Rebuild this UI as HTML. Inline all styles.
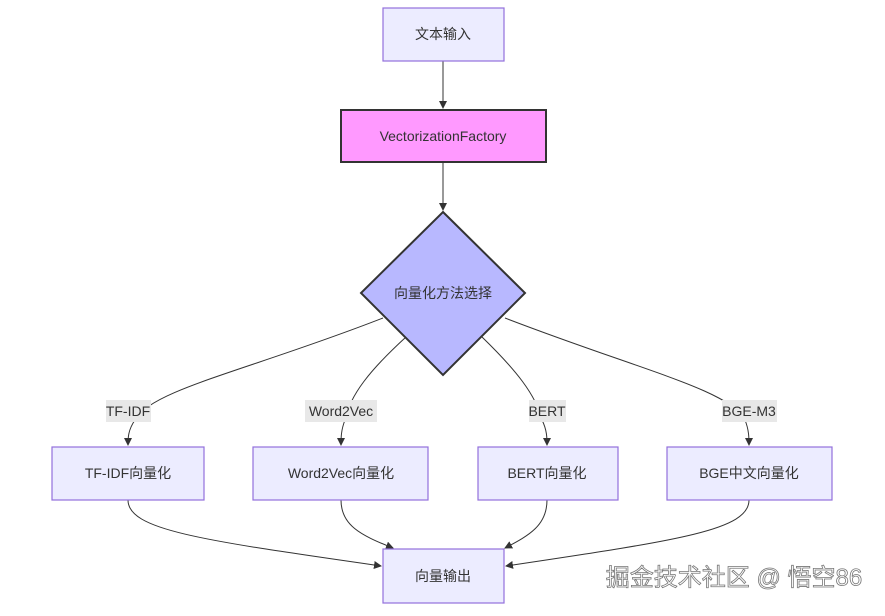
<!DOCTYPE html>
<html><head><meta charset="utf-8"><style>
body{margin:0;background:#fff;width:885px;height:611px;overflow:hidden}
svg text{font-family:"Liberation Sans","Noto Sans CJK SC",sans-serif;font-size:14px;fill:#333}
</style></head><body>
<svg width="885" height="611" viewBox="0 0 885 611">
<defs><marker id="a" markerWidth="8" markerHeight="8" refX="7" refY="4" orient="auto" markerUnits="userSpaceOnUse"><path d="M0,0 L8,4 L0,8z" fill="#333"/></marker></defs>
<g fill="none" stroke="#333" stroke-width="1">
<path d="M443,61 V108" marker-end="url(#a)"/>
<path d="M443,162 V210" marker-end="url(#a)"/>
<path d="M383,318 C250,370 150,390 135,420 C128,430 128,438 128,445" marker-end="url(#a)"/>
<path d="M406,337 C370,370 350,395 345,420 C341,430 341,438 341,445" marker-end="url(#a)"/>
<path d="M482,337 C516,370 536,395 542,420 C547,430 547,438 547,445" marker-end="url(#a)"/>
<path d="M505,318 C640,370 730,390 745,420 C749,430 749,438 749,445" marker-end="url(#a)"/>
<path d="M128,500 C128,530 200,540 381,566" marker-end="url(#a)"/>
<path d="M341,500 C341,525 360,535 393,548" marker-end="url(#a)"/>
<path d="M547,500 C547,525 530,535 505,548" marker-end="url(#a)"/>
<path d="M749,500 C749,530 680,540 506,566" marker-end="url(#a)"/>
</g>
<g fill="#ECECFF" stroke="#9370DB" stroke-width="1.2">
<rect x="383" y="8" width="121" height="53"/>
<rect x="52" y="447" width="152" height="53"/>
<rect x="253" y="447" width="175" height="53"/>
<rect x="478" y="447" width="140" height="53"/>
<rect x="667" y="447" width="165" height="53"/>
<rect x="383" y="549" width="121" height="54"/>
</g>
<rect x="341" y="110" width="205" height="52" fill="#FF99FF" stroke="#333" stroke-width="2"/>
<polygon points="443,212 525,293 443,375 361,293" fill="#B8B8FF" stroke="#333" stroke-width="2"/>
<g fill="#e8e8e8">
<rect x="106" y="400" width="45" height="22"/>
<rect x="305" y="400" width="72" height="22"/>
<rect x="529" y="400" width="37" height="22"/>
<rect x="722" y="400" width="55" height="22"/>
</g>
<g text-anchor="middle" dominant-baseline="central">
<text x="443" y="34">文本输入</text>
<text x="443" y="136">VectorizationFactory</text>
<text x="443" y="293">向量化方法选择</text>
<text x="128" y="411">TF-IDF</text>
<text x="341" y="411">Word2Vec</text>
<text x="547" y="411">BERT</text>
<text x="749" y="411">BGE-M3</text>
<text x="128" y="473">TF-IDF向量化</text>
<text x="341" y="473">Word2Vec向量化</text>
<text x="547" y="473">BERT向量化</text>
<text x="749" y="473">BGE中文向量化</text>
<text x="443" y="576">向量输出</text>
<text x="734" y="578" style="font-size:24px;fill:#fff;stroke:#777;stroke-width:0.8">掘金技术社区 @ 悟空86</text>
</g>
</svg>
</body></html>
